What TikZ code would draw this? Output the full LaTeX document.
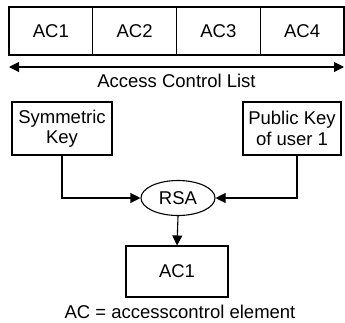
\documentclass[tikz,border=0pt]{standalone}
\usepackage{fontspec}
\setmainfont{Liberation Sans}
\usetikzlibrary{arrows.meta,shapes.geometric}
\tikzset{
	box/.style={draw, line width=1.1pt, inner sep=0pt, align=center},
	cell/.style={box, minimum width=83.75pt, minimum height=48pt},
	tip/.style={Triangle[length=10pt,width=10pt]},
	arr/.style={line width=1.1pt, -{Triangle[length=10pt,width=10pt]}}
}
\begin{document}
\begin{tikzpicture}[x=1pt,y=-1pt,font=\fontsize{18.5}{20.5}\selectfont]
				\useasboundingbox (0,0) rectangle (345,322);
				\foreach \i in {1,...,4}
					\node[cell] (ac\i) at ({9+83.75*(\i-0.5)},31) {AC\i};
				\coordinate (lstart) at (9,67);
				\coordinate (lend) at (344,67);
				\draw [line width=1.1pt, {Triangle[length=10pt,width=10pt]}-{Triangle[length=10pt,width=10pt]}] (lstart) -- (lend);
				\node[anchor=base] (acl) at (176.5,87) {Access Control List};
				\node[box, minimum width=100pt, minimum height=53pt] (sym) at (62,128.5) {Symmetric\\Key};
				\node[box, minimum width=98pt, minimum height=53pt] (pub) at (292,128.5) {Public Key\\of user 1};
				\node[draw, ellipse, line width=1.1pt, inner sep=0pt, minimum width=74pt, minimum height=35pt] (rsa) at (178,198) {RSA};
				\node[box, minimum width=102pt, minimum height=51pt] (out) at (177,271.5) {AC1};
				\draw [arr] (sym.south) |- (rsa.west);
				\draw [arr] ([xshift=5pt]pub.south) |- (rsa.east);
				\draw [arr] (rsa.south) -- (out.north);
				\node[anchor=base] (note) at (180,318) {AC = accesscontrol element};
				\end{tikzpicture}
\end{document}
